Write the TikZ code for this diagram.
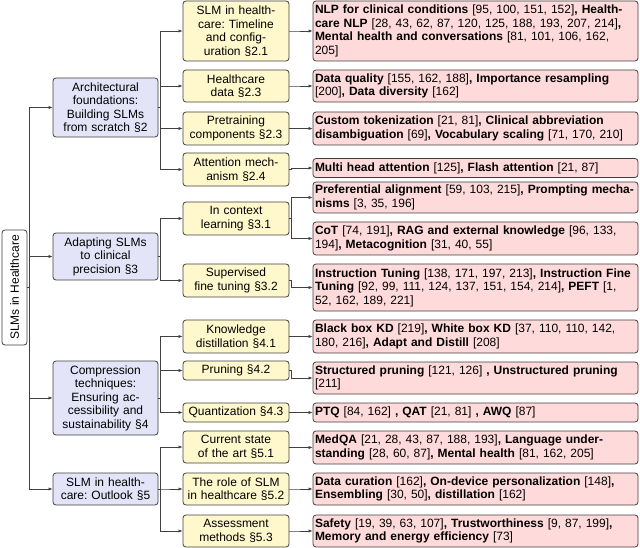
\documentclass[tikz,border=0pt]{standalone}
\usepackage{fontspec}
\setmainfont{Liberation Sans}
\usetikzlibrary{arrows.meta}
\frenchspacing
\definecolor{secblue}{HTML}{E4E4F8}
\definecolor{subyellow}{HTML}{FFF8CC}
\definecolor{leafred}{HTML}{FFDADA}
\definecolor{edgegray}{HTML}{404040}
\tikzset{
  box/.style={draw=edgegray,line width=0.8pt,rounded corners=3pt,inner sep=2pt,
    font=\fontsize{12}{13.5}\selectfont},
  root/.style={box,fill=white,minimum width=115pt,minimum height=25pt,rotate=90},
  sec/.style={box,fill=secblue,text width=101pt,align=center},
  sub/.style={box,fill=subyellow,text width=102pt,align=center},
  leaf/.style={box,fill=leafred,text width=321pt,align=left},
  arr/.style={-{Latex[length=4pt,width=3.2pt]},edgegray,line width=0.6pt}
}
\begin{document}
\begin{tikzpicture}[x=1pt,y=-1pt]
	\useasboundingbox (0,0) rectangle (640,548);
	\node [root] (R) at (14.5,287.5) {SLMs in Healthcare};
	% sections
	\node [sec,minimum height=59pt] (S2) at (105.5,107.5) {Architectural\\foundations:\\Building SLMs\\from scratch §2};
	\node [sec,minimum height=47pt] (S3) at (105.5,256.5) {Adapting SLMs\\to clinical\\precision §3};
	\node [sec,minimum height=74pt] (S4) at (105.5,398) {Compression\\techniques:\\Ensuring ac-\\cessibility and\\sustainability §4};
	\node [sec,minimum height=32pt] (S5) at (105.5,489) {SLM in health-\\care: Outlook §5};
	% subsections
	\node [sub,minimum height=60pt] (T21) at (236,31) {SLM in health-\\care: Timeline\\and config-\\uration §2.1};
	\node [sub,minimum height=32pt] (T22) at (236,86) {Healthcare\\data §2.3};
	\node [sub,minimum height=33pt] (T23) at (236,128.5) {Pretraining\\components §2.3};
	\node [sub,minimum height=33pt] (T24) at (236,169.5) {Attention mech-\\anism §2.4};
	\node [sub,minimum height=33pt] (T31) at (236,218.5) {In context\\learning §3.1};
	\node [sub,minimum height=33pt] (T32) at (236,280.5) {Supervised\\fine tuning §3.2};
	\node [sub,minimum height=33pt] (T41) at (236,336.5) {Knowledge\\distillation §4.1};
	\node [sub,minimum height=19pt] (T42) at (236,370.5) {Pruning §4.2};
	\node [sub,minimum height=19pt] (T43) at (236,412.5) {Quantization §4.3};
	\node [sub,minimum height=32pt] (T51) at (236,447) {Current state\\of the art §5.1};
	\node [sub,minimum height=32pt] (T52) at (236,489) {The role of SLM\\in healthcare §5.2};
	\node [sub,minimum height=32pt] (T53) at (236,531) {Assessment\\methods §5.3};
	% references
	\node [leaf,minimum height=60pt] (L21) at (475.5,31) {\textbf{NLP for clinical conditions} [95, 100, 151, 152]\textbf{, Health-}\\\textbf{care NLP} [28, 43, 62, 87, 120, 125, 188, 193, 207, 214]\textbf{,}\\\textbf{Mental health and conversations} [81, 101, 106, 162,\\205]};
	\node [leaf,minimum height=32pt] (L22) at (475.5,86) {\textbf{Data quality} [155, 162, 188]\textbf{, Importance resampling}\\{[200]}\textbf{, Data diversity} [162]};
	\node [leaf,minimum height=33pt] (L23) at (475.5,128.5) {\textbf{Custom tokenization} [21, 81]\textbf{, Clinical abbreviation}\\\textbf{disambiguation} [69]\textbf{, Vocabulary scaling} [71, 170, 210]};
	\node [leaf,minimum height=19pt] (L24) at (475.5,168) {\textbf{Multi head attention} [125]\textbf{, Flash attention} [21, 87]};
	\node [leaf,minimum height=31pt] (L31a) at (475.5,197.5) {\textbf{Preferential alignment} [59, 103, 215]\textbf{, Prompting mecha-}\\\textbf{nisms} [3, 35, 196]};
	\node [leaf,minimum height=33pt] (L31b) at (475.5,238.5) {\textbf{CoT} [74, 191]\textbf{, RAG and external knowledge} [96, 133,\\194]\textbf{, Metacognition} [31, 40, 55]};
	\node [leaf,minimum height=47pt] (L32) at (475.5,287.5) {\textbf{Instruction Tuning} [138, 171, 197, 213]\textbf{, Instruction Fine}\\\textbf{Tuning} [92, 99, 111, 124, 137, 151, 154, 214]\textbf{, PEFT} [1,\\52, 162, 189, 221]};
	\node [leaf,minimum height=33pt] (L41) at (475.5,336.5) {\textbf{Black box KD} [219]\textbf{, White box KD} [37, 110, 110, 142,\\180, 216]\textbf{, Adapt and Distill} [208]};
	\node [leaf,minimum height=32pt] (L42) at (475.5,378) {\textbf{Structured pruning} [121, 126] \textbf{, Unstructured pruning}\\{[211]}};
	\node [leaf,minimum height=19pt] (L43) at (475.5,412.5) {\textbf{PTQ} [84, 162] \textbf{, QAT} [21, 81] \textbf{, AWQ} [87]};
	\node [leaf,minimum height=33pt] (L51) at (475.5,447.5) {\textbf{MedQA} [21, 28, 43, 87, 188, 193]\textbf{, Language under-}\\\textbf{standing} [28, 60, 87]\textbf{, Mental health} [81, 162, 205]};
	\node [leaf,minimum height=32pt] (L52) at (475.5,489) {\textbf{Data curation} [162]\textbf{, On-device personalization} [148]\textbf{,}\\\textbf{Ensembling} [30, 50]\textbf{, distillation} [162]};
	\node [leaf,minimum height=32pt] (L53) at (475.5,531) {\textbf{Safety} [19, 39, 63, 107]\textbf{, Trustworthiness} [9, 87, 199]\textbf{,}\\\textbf{Memory and energy efficiency} [73]};
	% connectors
	\foreach \s in {S2,S3,S4,S5}
		\draw [arr] (R.south) -- ++(1.5,0) |- (\s.west);
	\foreach \s/\t in {S2/T21,S2/T22,S2/T23,S2/T24,S3/T31,S3/T32,S4/T41,S4/T42,S4/T43,S5/T51,S5/T52,S5/T53}
		\draw [arr] (\s.east) -- ++(2,0) |- (\t.west);
	\foreach \t/\l in {T21/L21,T22/L22,T23/L23,T24/L24,T31/L31a,T31/L31b,T32/L32,T41/L41,T42/L42,T43/L43,T51/L51,T52/L52,T53/L53}
		\draw [arr] (\t.east) -- ++(2,0) |- (\l.west);
\end{tikzpicture}
\end{document}
